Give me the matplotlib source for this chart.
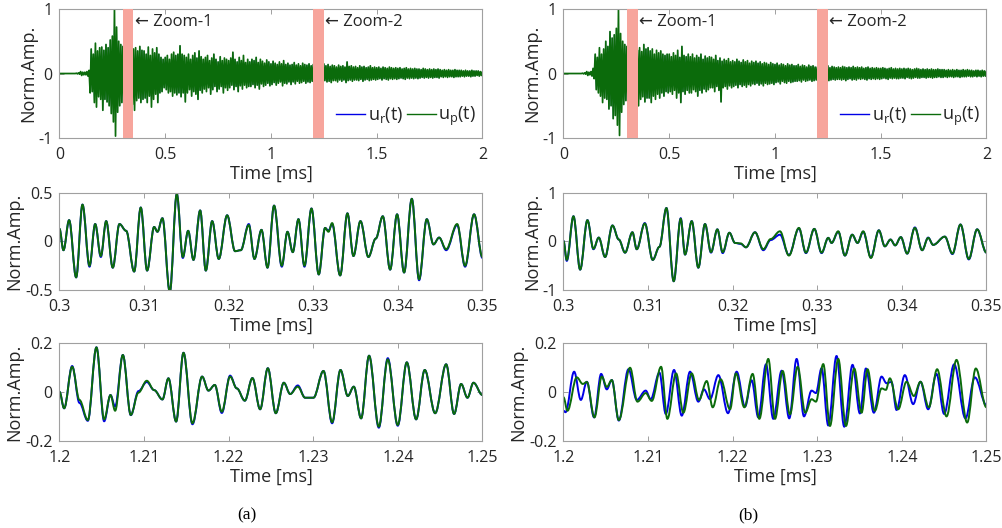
import numpy as np
import matplotlib
matplotlib.use("Agg")
import matplotlib.pyplot as plt
from matplotlib.path import Path
from matplotlib.patches import PathPatch
from matplotlib.lines import Line2D

plt.rcParams['font.family'] = ['Open Sans', 'DejaVu Sans']

# ---------------- data ----------------
# full-record envelope (upper / lower excursions) on a 0.01 ms grid, 0 .. 2 ms
env_a_hi = [0, 0, 0, 0, 0, 0, 0, 0, 0.005, 0.01,
            0.03, 0.02, 0.02, 0.03, 0.05, 0.38, 0.30, 0.47, 0.35, 0.40,
            0.41, 0.36, 0.45, 0.40, 0.52, 0.58, 1.00, 0.72, 0.50, 0.45,
            0.42, 0.38, 0.45, 0.40, 0.44, 0.38, 0.40, 0.35, 0.42, 0.36,
            0.35, 0.30, 0.41, 0.28, 0.38, 0.32, 0.40, 0.30, 0.25, 0.22,
            0.25, 0.28, 0.22, 0.30, 0.33, 0.28, 0.30, 0.43, 0.30, 0.28,
            0.25, 0.30, 0.22, 0.28, 0.32, 0.24, 0.35, 0.26, 0.22, 0.25,
            0.28, 0.20, 0.24, 0.30, 0.22, 0.18, 0.26, 0.20, 0.24, 0.22,
            0.20, 0.24, 0.33, 0.22, 0.18, 0.25, 0.20, 0.28, 0.17, 0.22,
            0.18, 0.22, 0.20, 0.25, 0.17, 0.22, 0.19, 0.16, 0.21, 0.18,
            0.15, 0.19, 0.16, 0.14, 0.18, 0.15, 0.20, 0.14, 0.16, 0.13,
            0.14, 0.17, 0.13, 0.15, 0.12, 0.16, 0.14, 0.13, 0.15, 0.12,
            0.14, 0.15, 0.16, 0.14, 0.13, 0.15, 0.12, 0.14, 0.11, 0.13,
            0.12, 0.10, 0.13, 0.11, 0.12, 0.10, 0.18, 0.11, 0.12, 0.10,
            0.11, 0.09, 0.12, 0.10, 0.11, 0.09, 0.10, 0.12, 0.09, 0.10,
            0.09, 0.10, 0.08, 0.10, 0.09, 0.08, 0.10, 0.09, 0.08, 0.09,
            0.08, 0.09, 0.07, 0.08, 0.09, 0.07, 0.08, 0.07, 0.08, 0.07,
            0.07, 0.06, 0.08, 0.07, 0.06, 0.07, 0.06, 0.07, 0.06, 0.07,
            0.06, 0.05, 0.06, 0.05, 0.06, 0.05, 0.05, 0.06, 0.05, 0.05,
            0.05, 0.04, 0.05, 0.04, 0.04, 0.05, 0.04, 0.04, 0.04, 0.03, 0.03]
env_a_lo = [0, 0, 0, 0, 0, 0, 0, 0, -0.005, -0.01,
            -0.03, -0.02, -0.02, -0.04, -0.30, -0.28, -0.45, -0.52, -0.36, -0.40,
            -0.57, -0.40, -0.44, -0.50, -0.62, -0.75, -0.97, -0.60, -0.50, -0.45,
            -0.45, -0.50, -0.40, -0.55, -0.48, -0.57, -0.42, -0.38, -0.45, -0.40,
            -0.38, -0.45, -0.35, -0.52, -0.40, -0.32, -0.45, -0.30, -0.28, -0.22,
            -0.25, -0.30, -0.28, -0.35, -0.30, -0.33, -0.30, -0.36, -0.30, -0.44,
            -0.30, -0.25, -0.35, -0.28, -0.32, -0.40, -0.26, -0.30, -0.24, -0.28,
            -0.22, -0.32, -0.25, -0.20, -0.28, -0.24, -0.20, -0.30, -0.22, -0.26,
            -0.22, -0.18, -0.25, -0.20, -0.28, -0.19, -0.24, -0.18, -0.22, -0.20,
            -0.20, -0.17, -0.22, -0.18, -0.24, -0.16, -0.20, -0.18, -0.15, -0.19,
            -0.17, -0.14, -0.18, -0.15, -0.13, -0.19, -0.15, -0.16, -0.13, -0.17,
            -0.13, -0.16, -0.12, -0.15, -0.14, -0.12, -0.15, -0.13, -0.14, -0.12,
            -0.12, -0.13, -0.14, -0.12, -0.15, -0.11, -0.13, -0.12, -0.14, -0.11,
            -0.11, -0.13, -0.10, -0.12, -0.10, -0.14, -0.11, -0.10, -0.12, -0.10,
            -0.10, -0.11, -0.09, -0.12, -0.10, -0.09, -0.11, -0.10, -0.09, -0.10,
            -0.09, -0.08, -0.10, -0.08, -0.09, -0.10, -0.08, -0.09, -0.08, -0.09,
            -0.08, -0.07, -0.08, -0.09, -0.07, -0.08, -0.07, -0.08, -0.07, -0.08,
            -0.07, -0.06, -0.07, -0.06, -0.07, -0.06, -0.07, -0.06, -0.06, -0.07,
            -0.05, -0.06, -0.05, -0.06, -0.05, -0.05, -0.06, -0.05, -0.05, -0.05,
            -0.04, -0.05, -0.04, -0.04, -0.05, -0.04, -0.04, -0.03, -0.04, -0.03, -0.03]
env_b_hi = [0, 0, 0, 0, 0, 0, 0, 0, 0, 0.005,
            0.01, 0.03, 0.02, 0.03, 0.08, 0.30, 0.25, 0.40, 0.30, 0.38,
            0.50, 0.42, 0.65, 0.55, 0.60, 0.70, 1.00, 0.62, 0.50, 0.45,
            0.42, 0.38, 0.40, 0.35, 0.38, 0.36, 0.40, 0.34, 0.45, 0.38,
            0.40, 0.35, 0.38, 0.30, 0.36, 0.32, 0.35, 0.30, 0.28, 0.30,
            0.30, 0.26, 0.32, 0.28, 0.36, 0.25, 0.42, 0.28, 0.26, 0.30,
            0.26, 0.30, 0.24, 0.28, 0.25, 0.30, 0.22, 0.27, 0.24, 0.26,
            0.25, 0.22, 0.28, 0.20, 0.24, 0.19, 0.22, 0.20, 0.23, 0.18,
            0.20, 0.18, 0.22, 0.19, 0.17, 0.21, 0.18, 0.20, 0.16, 0.19,
            0.17, 0.19, 0.16, 0.18, 0.15, 0.17, 0.16, 0.14, 0.17, 0.15,
            0.14, 0.16, 0.13, 0.15, 0.14, 0.12, 0.15, 0.13, 0.14, 0.12,
            0.12, 0.14, 0.11, 0.13, 0.12, 0.10, 0.13, 0.11, 0.12, 0.10,
            0.10, 0.11, 0.12, 0.10, 0.11, 0.12, 0.09, 0.11, 0.10, 0.09,
            0.10, 0.09, 0.11, 0.10, 0.09, 0.10, 0.09, 0.11, 0.09, 0.10,
            0.09, 0.10, 0.08, 0.09, 0.10, 0.08, 0.09, 0.08, 0.09, 0.08,
            0.08, 0.09, 0.08, 0.07, 0.08, 0.09, 0.07, 0.08, 0.07, 0.08,
            0.07, 0.08, 0.07, 0.08, 0.07, 0.06, 0.07, 0.08, 0.07, 0.06,
            0.07, 0.06, 0.07, 0.06, 0.07, 0.06, 0.06, 0.07, 0.06, 0.06,
            0.06, 0.05, 0.06, 0.05, 0.06, 0.05, 0.06, 0.05, 0.05, 0.06,
            0.05, 0.06, 0.05, 0.05, 0.04, 0.05, 0.05, 0.04, 0.05, 0.04, 0.04]
env_b_lo = [0, 0, 0, 0, 0, 0, 0, 0, 0, -0.005,
            -0.01, -0.03, -0.02, -0.04, -0.08, -0.25, -0.30, -0.35, -0.45, -0.38,
            -0.40, -0.55, -0.50, -0.70, -0.65, -0.80, -0.96, -0.60, -0.48, -0.42,
            -0.42, -0.45, -0.38, -0.48, -0.42, -0.50, -0.40, -0.36, -0.44, -0.38,
            -0.38, -0.45, -0.35, -0.40, -0.32, -0.38, -0.30, -0.35, -0.28, -0.30,
            -0.28, -0.32, -0.26, -0.38, -0.30, -0.45, -0.28, -0.32, -0.26, -0.30,
            -0.30, -0.25, -0.28, -0.35, -0.26, -0.30, -0.24, -0.28, -0.25, -0.22,
            -0.22, -0.28, -0.20, -0.26, -0.44, -0.22, -0.20, -0.24, -0.19, -0.22,
            -0.20, -0.18, -0.22, -0.17, -0.20, -0.18, -0.21, -0.17, -0.19, -0.16,
            -0.17, -0.15, -0.18, -0.16, -0.19, -0.15, -0.17, -0.16, -0.15, -0.17,
            -0.14, -0.13, -0.16, -0.12, -0.14, -0.15, -0.12, -0.14, -0.13, -0.12,
            -0.12, -0.11, -0.13, -0.10, -0.12, -0.11, -0.10, -0.12, -0.11, -0.10,
            -0.10, -0.09, -0.11, -0.10, -0.09, -0.11, -0.10, -0.09, -0.10, -0.09,
            -0.09, -0.10, -0.09, -0.11, -0.09, -0.08, -0.10, -0.09, -0.10, -0.08,
            -0.09, -0.08, -0.09, -0.10, -0.08, -0.09, -0.08, -0.09, -0.08, -0.09,
            -0.08, -0.07, -0.08, -0.09, -0.07, -0.08, -0.07, -0.08, -0.08, -0.07,
            -0.07, -0.08, -0.06, -0.07, -0.08, -0.07, -0.06, -0.07, -0.07, -0.06,
            -0.06, -0.07, -0.06, -0.06, -0.07, -0.06, -0.06, -0.05, -0.06, -0.06,
            -0.05, -0.06, -0.05, -0.05, -0.06, -0.05, -0.05, -0.06, -0.05, -0.05,
            -0.05, -0.04, -0.05, -0.05, -0.04, -0.05, -0.04, -0.05, -0.04, -0.04, -0.04]

# Zoom-1 (a): turning points, time in ms
z1a_t = [0.30000, 0.30047, 0.30114, 0.30197, 0.30272, 0.30355, 0.30422, 0.30489, 0.30552, 0.30630,
         0.30709, 0.30788, 0.30883, 0.30961, 0.31036, 0.31119, 0.31158, 0.31217, 0.31304, 0.31387,
         0.31458, 0.31521, 0.31584, 0.31663, 0.31730, 0.31805, 0.31883, 0.31982, 0.32076, 0.32143,
         0.32238, 0.32305, 0.32388, 0.32459, 0.32537, 0.32628, 0.32695, 0.32758, 0.32825, 0.32896,
         0.32979, 0.33065, 0.33140, 0.33180, 0.33223, 0.33318, 0.33404, 0.33475, 0.33558, 0.33652,
         0.33739, 0.33822, 0.33909, 0.33991, 0.34074, 0.34165, 0.34251, 0.34342, 0.34421, 0.34488,
         0.34571, 0.34701, 0.34795, 0.34901, 0.35000]
z1a_up = [0.13, -0.09, 0.22, -0.37, 0.38, -0.25, 0.18, -0.15, 0.21, -0.27,
          0.18, 0.11, -0.31, 0.35, -0.30, 0.15, 0.10, 0.24, -0.52, 0.49,
          -0.16, 0.11, -0.19, 0.32, -0.30, 0.21, -0.18, 0.27, -0.10, -0.09,
          0.17, -0.18, 0.12, -0.27, 0.37, -0.25, 0.10, -0.11, 0.23, -0.25,
          0.34, -0.34, 0.14, 0.10, 0.19, -0.35, 0.29, -0.15, 0.21, -0.16,
          0.03, 0.26, -0.29, 0.28, -0.32, 0.44, -0.39, 0.23, -0.03, 0.04,
          -0.08, 0.18, -0.25, 0.28, -0.16]
z1a_ur = [0.13, -0.09, 0.22, -0.37, 0.38, -0.26, 0.18, -0.16, 0.21, -0.27,
          0.18, 0.11, -0.31, 0.35, -0.30, 0.15, 0.10, 0.24, -0.52, 0.49,
          -0.17, 0.11, -0.19, 0.32, -0.30, 0.21, -0.18, 0.27, -0.10, -0.09,
          0.18, -0.18, 0.12, -0.27, 0.37, -0.26, 0.10, -0.11, 0.23, -0.26,
          0.34, -0.34, 0.14, 0.11, 0.18, -0.35, 0.29, -0.15, 0.21, -0.16,
          0.03, 0.26, -0.29, 0.28, -0.32, 0.44, -0.40, 0.23, -0.03, 0.04,
          -0.09, 0.17, -0.26, 0.28, -0.17]

# Zoom-1 (b)
z1b_t = [0.30000, 0.30039, 0.30118, 0.30197, 0.30283, 0.30354, 0.30417, 0.30492, 0.30579, 0.30654,
         0.30728, 0.30815, 0.30866, 0.30961, 0.31055, 0.31134, 0.31217, 0.31303, 0.31386, 0.31437,
         0.31516, 0.31594, 0.31673, 0.31744, 0.31819, 0.31882, 0.31961, 0.32028, 0.32094, 0.32157,
         0.32264, 0.32362, 0.32449, 0.32559, 0.32665, 0.32783, 0.32866, 0.32965, 0.33051, 0.33130,
         0.33169, 0.33248, 0.33327, 0.33413, 0.33476, 0.33543, 0.33634, 0.33728, 0.33799, 0.33866,
         0.33921, 0.33988, 0.34063, 0.34154, 0.34240, 0.34311, 0.34370, 0.34508, 0.34598, 0.34693,
         0.34791, 0.34890, 0.35000]
z1b_up = [0.01, -0.38, 0.52, -0.58, 0.44, -0.15, 0.08, -0.32, 0.33, 0.04,
          -0.23, 0.19, -0.16, 0.37, -0.38, -0.11, 0.69, -0.82, 0.47, -0.27,
          0.42, -0.54, 0.36, -0.22, 0.25, -0.22, 0.18, -0.03, -0.04, -0.12,
          0.19, -0.16, 0.05, 0.21, -0.29, 0.28, -0.23, 0.26, -0.23, 0.075,
          -0.03, 0.21, -0.29, 0.14, -0.03, 0.21, -0.34, 0.23, -0.10, 0.04,
          -0.08, 0.09, -0.25, 0.28, -0.18, 0.075, -0.07, 0.10, -0.25, 0.35,
          -0.36, 0.25, -0.23]
z1b_ur = [0.01, -0.40, 0.52, -0.58, 0.44, -0.16, 0.08, -0.32, 0.33, 0.04,
          -0.23, 0.19, -0.16, 0.38, -0.38, -0.11, 0.69, -0.82, 0.48, -0.27,
          0.42, -0.54, 0.36, -0.23, 0.25, -0.24, 0.18, -0.03, -0.05, -0.12,
          0.19, -0.18, 0.03, 0.14, -0.28, 0.27, -0.24, 0.26, -0.24, 0.075,
          -0.03, 0.20, -0.29, 0.14, -0.03, 0.20, -0.33, 0.23, -0.10, 0.04,
          -0.08, 0.09, -0.25, 0.29, -0.18, 0.08, -0.07, 0.10, -0.26, 0.35,
          -0.37, 0.25, -0.23]

# Zoom-2 (a)
z2a_t = [1.20000, 1.20055, 1.20150, 1.20236, 1.20335, 1.20437, 1.20528, 1.20603, 1.20658, 1.20749,
         1.20843, 1.20934, 1.21032, 1.21119, 1.21217, 1.21288, 1.21379, 1.21466, 1.21572, 1.21686,
         1.21761, 1.21836, 1.21919, 1.22017, 1.22096, 1.22191, 1.22281, 1.22372, 1.22463, 1.22557,
         1.22652, 1.22727, 1.22817, 1.22904, 1.23002, 1.23121, 1.23223, 1.23322, 1.23408, 1.23479,
         1.23566, 1.23660, 1.23775, 1.23881, 1.23999, 1.24106, 1.24216, 1.24318, 1.24441, 1.24571,
         1.24665, 1.24748, 1.24823, 1.24894, 1.25000]
z2a_up = [0.0, -0.067, 0.102, -0.033, -0.115, 0.181, -0.112, -0.013, -0.077, 0.150,
          -0.094, -0.003, 0.045, 0.007, -0.031, 0.055, -0.121, 0.159, -0.128, 0.062,
          0.005, 0.028, -0.081, 0.062, 0.014, -0.036, 0.056, -0.071, 0.096, -0.087,
          0.037, -0.009, 0.021, -0.024, -0.024, 0.085, -0.124, 0.089, -0.017, 0.021,
          -0.108, 0.147, -0.142, 0.132, -0.135, 0.120, -0.112, 0.089, -0.087, 0.112,
          -0.090, 0.032, -0.024, 0.037, -0.013]
z2a_ur = [0.0, -0.067, 0.105, -0.045, -0.118, 0.181, -0.120, -0.013, -0.060, 0.150,
          -0.095, 0.003, 0.040, 0.007, -0.031, 0.055, -0.121, 0.159, -0.132, 0.062,
          0.005, 0.028, -0.086, 0.066, 0.014, -0.036, 0.056, -0.071, 0.096, -0.087,
          0.037, -0.009, 0.026, -0.024, -0.024, 0.085, -0.128, 0.089, -0.017, 0.021,
          -0.108, 0.147, -0.146, 0.137, -0.138, 0.120, -0.112, 0.089, -0.087, 0.112,
          -0.090, 0.032, -0.024, 0.037, -0.013]

# Zoom-2 (b) -- the two signals differ, so each has its own turning points
z2b_t_ur = [1.20000, 1.20024, 1.20126, 1.20205, 1.20276, 1.20362, 1.20445, 1.20512, 1.20571, 1.20654,
            1.20768, 1.20866, 1.20972, 1.21031, 1.21134, 1.21209, 1.21307, 1.21398, 1.21496, 1.21594,
            1.21661, 1.21732, 1.21831, 1.21945, 1.22047, 1.22146, 1.22224, 1.22303, 1.22394, 1.22480,
            1.22579, 1.22669, 1.22756, 1.22843, 1.22933, 1.22984, 1.23051, 1.23130, 1.23228, 1.23319,
            1.23417, 1.23504, 1.23575, 1.23669, 1.23760, 1.23819, 1.23878, 1.23937, 1.24035, 1.24134,
            1.24220, 1.24311, 1.24409, 1.24500, 1.24618, 1.24752, 1.24862, 1.25000]
z2b_ur = [-0.077, -0.083, 0.082, -0.033, 0.041, -0.104, 0.073, 0.010, 0.048, -0.117,
          0.092, -0.033, 0.005, -0.030, 0.078, -0.090, 0.089, -0.097, 0.082, -0.040,
          0.010, -0.030, 0.068, -0.087, 0.082, -0.060, 0.047, -0.104, 0.112, -0.110,
          0.086, -0.108, 0.134, -0.100, 0.005, -0.005, 0.096, -0.137, 0.146, -0.142,
          0.110, -0.088, 0.095, -0.085, 0.062, 0.035, 0.040, -0.074, 0.068, -0.050,
          0.041, -0.071, 0.073, -0.090, 0.112, -0.108, 0.059, -0.054]
z2b_t_up = [1.20000, 1.20047, 1.20157, 1.20228, 1.20276, 1.20366, 1.20453, 1.20512, 1.20571, 1.20654,
            1.20787, 1.20874, 1.20972, 1.21043, 1.21154, 1.21228, 1.21331, 1.21417, 1.21516, 1.21602,
            1.21693, 1.21764, 1.21858, 1.21969, 1.22039, 1.22138, 1.22236, 1.22315, 1.22421, 1.22500,
            1.22591, 1.22677, 1.22768, 1.22858, 1.22933, 1.22984, 1.23071, 1.23150, 1.23248, 1.23339,
            1.23437, 1.23524, 1.23594, 1.23681, 1.23760, 1.23811, 1.23858, 1.23957, 1.24055, 1.24142,
            1.24220, 1.24319, 1.24417, 1.24528, 1.24646, 1.24772, 1.24874, 1.25000]
z2b_up = [-0.022, -0.077, 0.059, 0.032, 0.040, -0.104, 0.062, 0.020, 0.048, -0.115,
          0.098, -0.040, -0.005, -0.037, 0.102, -0.110, 0.075, -0.085, 0.075, -0.033,
          0.044, -0.063, 0.051, -0.071, 0.075, -0.063, 0.073, -0.110, 0.134, -0.110,
          0.085, -0.092, 0.102, -0.085, -0.030, -0.040, 0.113, -0.139, 0.134, -0.139,
          0.095, -0.085, 0.092, -0.077, 0.014, 0.008, 0.055, -0.071, 0.041, -0.017,
          0.041, -0.063, 0.092, -0.100, 0.130, -0.125, 0.095, -0.063]

legend_labels = ['u$_\\mathregular{r}$(t)', 'u$_\\mathregular{p}$(t)']
zoom_windows = [(0.30, 0.35, '← Zoom-1'), (1.20, 1.25, '← Zoom-2')]

# ---------------- style ----------------
C_R = '#0000e6'
C_P = '#0b6b0b'
BAND = '#f7a59c'
SPINE = '#a0a0a0'
TXT = '#262626'
FS_TICK = 11.5
FS_LAB = 13

fig = plt.figure(figsize=(10.03, 5.28), dpi=100)

def style(ax, xlim, ylim, xticks, xtl, yticks, ytl):
    ax.set_xlim(*xlim)
    ax.set_ylim(*ylim)
    ax.set_xticks(xticks)
    ax.set_xticklabels(xtl)
    ax.set_yticks(yticks)
    ax.set_yticklabels(ytl)
    ax.tick_params(direction='in', length=3.5, width=0.7, top=True, right=True,
                   colors=SPINE, labelcolor=TXT, labelsize=FS_TICK)
    ax.tick_params(axis='x', pad=6.5)
    ax.tick_params(axis='y', pad=5)
    for s in ax.spines.values():
        s.set_color(SPINE)
        s.set_linewidth(0.8)
    ax.set_xlabel('Time [ms]', fontsize=FS_LAB, color=TXT, labelpad=1.5)
    ax.set_ylabel('Norm.Amp.', fontsize=FS_LAB, color=TXT, labelpad=1)

def smooth(ax, t, y, color, lw=1.4, z=2):
    k = 0.36
    verts = [(t[0], y[0])]
    codes = [Path.MOVETO]
    for i in range(len(t) - 1):
        d = t[i + 1] - t[i]
        verts += [(t[i] + k * d, y[i]), (t[i + 1] - k * d, y[i + 1]), (t[i + 1], y[i + 1])]
        codes += [Path.CURVE4] * 3
    ax.add_patch(PathPatch(Path(verts, codes), facecolor='none', edgecolor=color,
                           lw=lw, zorder=z, capstyle='round', joinstyle='round'))

t_grid = np.round(np.arange(0, 2.0001, 0.01), 3)

def zig(hi, lo):
    n = len(t_grid)
    t = np.empty(2 * n)
    y = np.empty(2 * n)
    t[0::2] = t_grid
    t[1::2] = t_grid + 0.005
    y[0::2] = hi
    y[1::2] = lo
    return t, y

L = [0.0593, 0.5618]
W = 0.4217
tops = [(0.7386, 0.2443), (0.4508, 0.1837), (0.1648, 0.1862)]

env = [(env_a_hi, env_a_lo), (env_b_hi, env_b_lo)]
z1 = [(z1a_t, z1a_ur, z1a_t, z1a_up), (z1b_t, z1b_ur, z1b_t, z1b_up)]
z2 = [(z2a_t, z2a_ur, z2a_t, z2a_up), (z2b_t_ur, z2b_ur, z2b_t_up, z2b_up)]

for c in range(2):
    # full record
    ax = fig.add_axes([L[c], tops[0][0], W, tops[0][1]])
    t, y = zig(*env[c])
    ax.plot(t, y, color=C_R, lw=0.5, zorder=2)
    ax.plot(t, y, color=C_P, lw=1.25, zorder=2.1)
    for (a, b, lab) in zoom_windows:
        ax.axvspan(a, b, color=BAND, lw=0, zorder=3)
        ax.text(b + 0.006, 0.80, lab, fontsize=12, color=TXT, va='center', ha='left',
                family=['Open Sans', 'DejaVu Sans'], zorder=4)
    style(ax, (0, 2), (-1, 1), [0, 0.5, 1, 1.5, 2], ['0', '0.5', '1', '1.5', '2'],
          [-1, 0, 1], ['-1', '0', '1'])
    handles = [Line2D([], [], color=C_R, lw=1.0), Line2D([], [], color=C_P, lw=1.0)]
    ax.legend(handles, legend_labels, loc='center right', bbox_to_anchor=(0.985, 0.165),
              ncol=2, frameon=False, fontsize=13, handlelength=1.6, handletextpad=0.12,
              columnspacing=0.25, borderpad=0, borderaxespad=0, labelcolor=TXT)

    # zoom 1
    ax = fig.add_axes([L[c], tops[1][0], W, tops[1][1]])
    tr, yr, tp, yp = z1[c]
    smooth(ax, tr, yr, C_R, z=2)
    smooth(ax, tp, yp, C_P, z=2.1)
    xt = [0.30, 0.31, 0.32, 0.33, 0.34, 0.35]
    xtl = ['0.3', '0.31', '0.32', '0.33', '0.34', '0.35']
    if c == 0:
        style(ax, (0.3, 0.35), (-0.5, 0.5), xt, xtl, [-0.5, 0, 0.5], ['-0.5', '0', '0.5'])
    else:
        style(ax, (0.3, 0.35), (-1, 1), xt, xtl, [-1, 0, 1], ['-1', '0', '1'])

    # zoom 2
    ax = fig.add_axes([L[c], tops[2][0], W, tops[2][1]])
    tr, yr, tp, yp = z2[c]
    smooth(ax, tr, yr, C_R, z=2)
    smooth(ax, tp, yp, C_P, z=2.1)
    xt = [1.20, 1.21, 1.22, 1.23, 1.24, 1.25]
    xtl = ['1.2', '1.21', '1.22', '1.23', '1.24', '1.25']
    style(ax, (1.2, 1.25), (-0.2, 0.2), xt, xtl, [-0.2, 0, 0.2], ['-0.2', '0', '0.2'])

fig.text(247 / 1003, 1 - 515 / 528, '(a)', ha='center', va='center', fontsize=12.5,
         family='Liberation Serif', color='black')
fig.text(748 / 1003, 1 - 515 / 528, '(b)', ha='center', va='center', fontsize=12.5,
         family='Liberation Serif', color='black')

fig.savefig('out.png', dpi=100)
